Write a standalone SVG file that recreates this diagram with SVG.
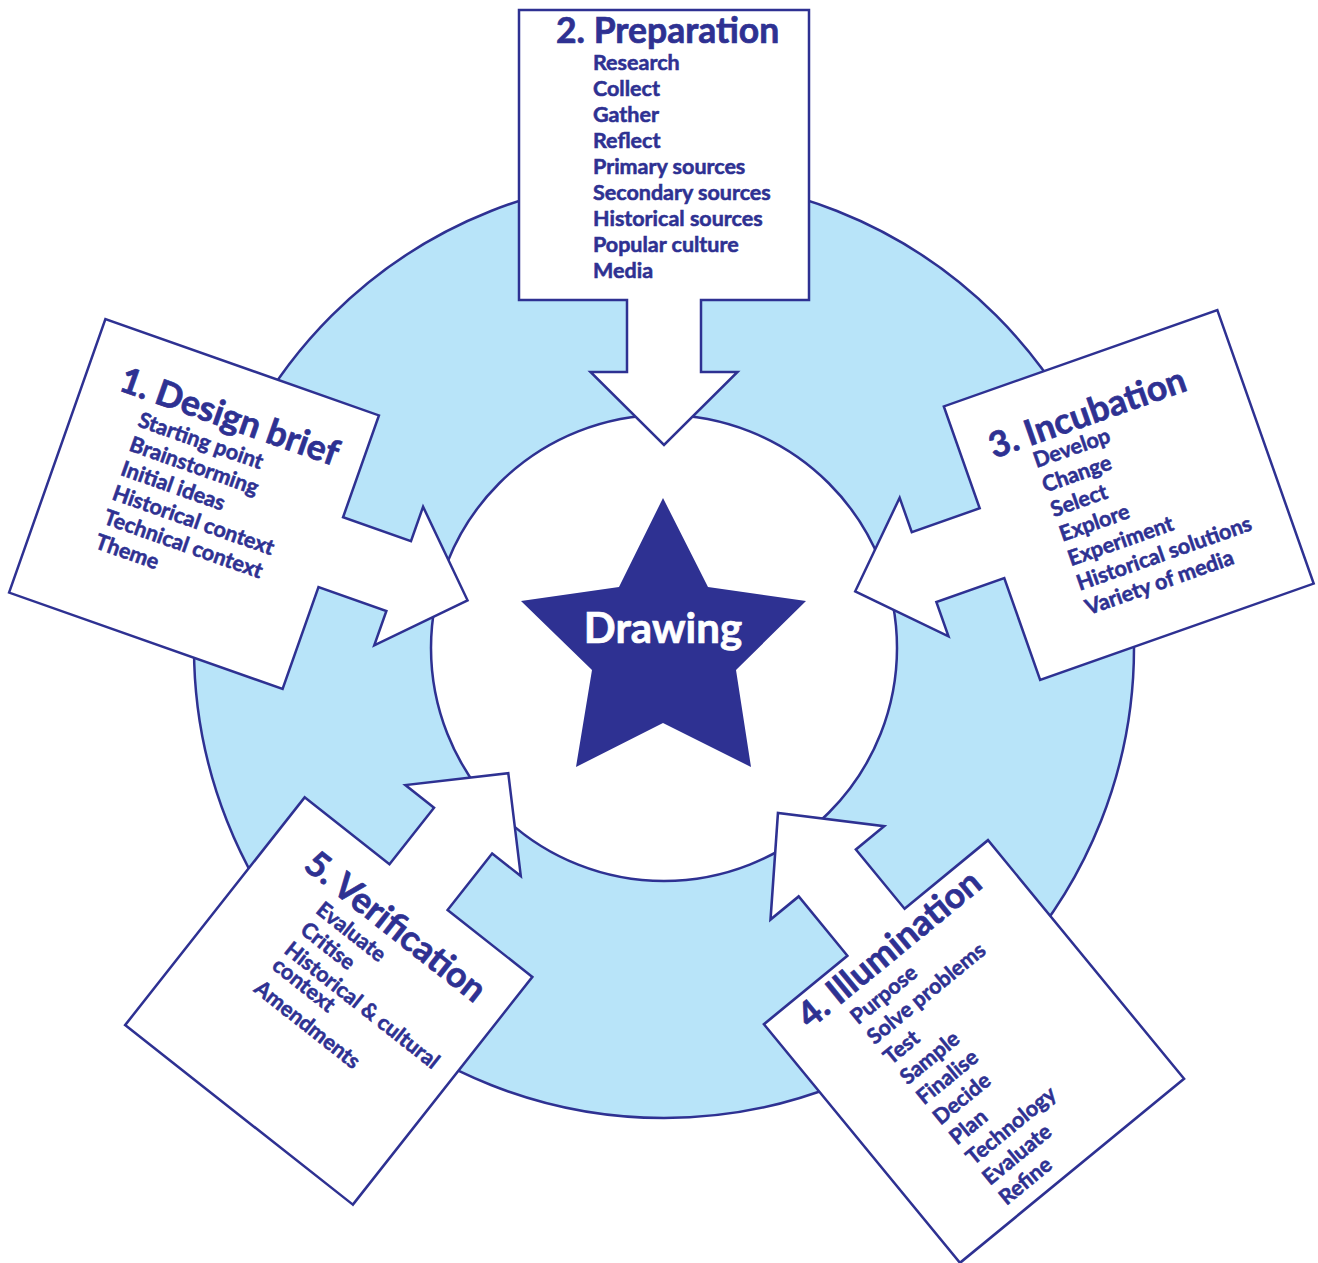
<svg xmlns="http://www.w3.org/2000/svg" width="1318" height="1263" viewBox="0 0 1318 1263">
  <defs>
    <style>
      .ring { fill: #b8e4f9; stroke: #2e3192; stroke-width: 2.5; }
      .hole { fill: #ffffff; stroke: #2e3192; stroke-width: 2.5; }
      .card { fill: #ffffff; stroke: #2e3192; stroke-width: 2.5; stroke-linejoin: miter; }
      .title { font-family: Lato, "Open Sans", "DejaVu Sans", sans-serif; font-weight: 700; font-size: 35.5px; fill: #2e3192; stroke: #2e3192; stroke-width: 0.7; }
      .item { font-family: Lato, "Open Sans", "DejaVu Sans", sans-serif; font-weight: 700; font-size: 21.5px; fill: #2e3192; stroke: #2e3192; stroke-width: 0.55; }
      .centre { font-family: Lato, "Open Sans", "DejaVu Sans", sans-serif; font-weight: 700; font-size: 42px; fill: #ffffff; stroke: #ffffff; stroke-width: 0.7; }
    </style>
    <!-- square card with an arrow on its lower edge, centred on the origin -->
    <path id="card-shape" d="M -145,-145 H 145 V 145 H 37 V 217 H 73.5 L 0,290 L -73.5,217 H -37 V 145 H -145 Z"/>
  </defs>

  <rect x="0" y="0" width="1318" height="1263" fill="#ffffff"/>

  <!-- ring behind the cards -->
  <g id="ring">
    <circle class="ring" cx="664" cy="648" r="470"/>
    <circle class="hole" cx="664" cy="648" r="233"/>
  </g>

  <!-- arrow outlines of the cards -->
  <g id="connectors">
    <use href="#card-shape" class="card" transform="translate(194,504) rotate(-70.6)"/>
    <use href="#card-shape" class="card" transform="translate(664,155)"/>
    <use href="#card-shape" class="card" transform="translate(1128.75,495) rotate(70.6)"/>
    <use href="#card-shape" class="card" vector-effect="non-scaling-stroke" transform="translate(974,1051.5) rotate(140.6) scale(1,1.065)"/>
    <use href="#card-shape" class="card" transform="translate(328.75,1001) rotate(218.25)"/>
  </g>

  <g id="design-brief" transform="translate(194,504) rotate(19.4)">
    <text class="title" x="-110" y="-82">1. Design brief</text>
    <text class="item" x="-80" y="-54.5">Starting point</text>
    <text class="item" x="-80" y="-28.7">Brainstorming</text>
    <text class="item" x="-80" y="-2.9">Initial ideas</text>
    <text class="item" x="-80" y="22.9">Historical context</text>
    <text class="item" x="-80" y="48.7">Technical context</text>
    <text class="item" x="-80" y="74.5">Theme</text>
  </g>

  <g id="preparation" transform="translate(664,155)">
    <text class="title" x="-108" y="-112">2. Preparation</text>
    <text class="item" x="-71" y="-85">Research</text>
    <text class="item" x="-71" y="-59">Collect</text>
    <text class="item" x="-71" y="-33">Gather</text>
    <text class="item" x="-71" y="-7">Reflect</text>
    <text class="item" x="-71" y="19">Primary sources</text>
    <text class="item" x="-71" y="45">Secondary sources</text>
    <text class="item" x="-71" y="71">Historical sources</text>
    <text class="item" x="-71" y="97">Popular culture</text>
    <text class="item" x="-71" y="123">Media</text>
  </g>

  <g id="incubation" transform="translate(1128.75,495) rotate(-19.4)">
    <text class="title" x="-115" y="-79">3. Incubation</text>
    <text class="item" x="-78" y="-56">Develop</text>
    <text class="item" x="-78" y="-30">Change</text>
    <text class="item" x="-78" y="-4">Select</text>
    <text class="item" x="-78" y="22">Explore</text>
    <text class="item" x="-78" y="48">Experiment</text>
    <text class="item" x="-78" y="74">Historical solutions</text>
    <text class="item" x="-78" y="100">Variety of media</text>
  </g>

  <g id="illumination" transform="translate(974,1051.5) rotate(-39.4)">
    <text class="title" x="-113" y="-121">4. Illumination</text>
    <text class="item" x="-73" y="-94">Purpose</text>
    <text class="item" x="-73" y="-68">Solve problems</text>
    <text class="item" x="-73" y="-42">Test</text>
    <text class="item" x="-73" y="-16">Sample</text>
    <text class="item" x="-73" y="10">Finalise</text>
    <text class="item" x="-73" y="36">Decide</text>
    <text class="item" x="-73" y="62">Plan</text>
    <text class="item" x="-73" y="88">Technology</text>
    <text class="item" x="-73" y="114">Evaluate</text>
    <text class="item" x="-73" y="140">Refine</text>
  </g>

  <g id="verification" transform="translate(328.75,1001) rotate(38.25)">
    <text class="title" x="-103" y="-88">5. Verification</text>
    <text class="item" x="-66" y="-61">Evaluate</text>
    <text class="item" x="-66" y="-35.5">Critise</text>
    <text class="item" x="-66" y="-10">Historical &amp; cultural</text>
    <text class="item" x="-66" y="10">context</text>
    <text class="item" x="-66" y="39">Amendments</text>
  </g>

  <g id="drawing">
    <polygon points="663,498 708,587 806,601 736,670 751,767 663,723 576,767 592,670 521,601 619,587" fill="#2e3192"/>
    <text class="centre" x="663" y="643" text-anchor="middle">Drawing</text>
  </g>
</svg>
